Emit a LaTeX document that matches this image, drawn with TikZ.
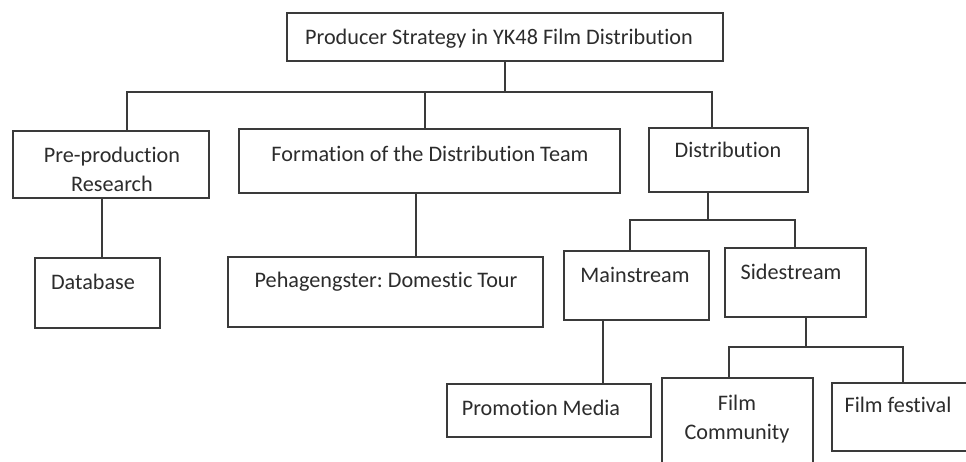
\documentclass[tikz,border=0pt]{standalone}
\usepackage{fontspec}
\setmainfont{Carlito}[Ligatures={NoCommon}]
\usetikzlibrary{fit}
\frenchspacing
\definecolor{ink}{HTML}{3A3A3A}
\definecolor{txt}{HTML}{2C2C2C}
\tikzset{
  box/.style={draw=ink, line width=1.5pt, rectangle, inner sep=0pt, fill=white},
  lbl/.style={text=txt, anchor=base, inner sep=0pt, align=center,
              font=\fontsize{22.2}{29}\selectfont},
  link/.style={draw=ink, line width=1.5pt},
}
\begin{document}
\begin{tikzpicture}[x=1pt,y=-1pt]
\useasboundingbox (0,0) rectangle (966,461);

% boxes
\node[box, fit={(287,13) (723,61)}]   (top)   {};
\node[box, fit={(13,131) (209,198)}]  (pre)   {};
\node[box, fit={(239,129) (620,193)}] (form)  {};
\node[box, fit={(649,128) (808,192)}] (dist)  {};
\node[box, fit={(35,258) (160,328)}]  (db)    {};
\node[box, fit={(228,257) (543,327)}] (tour)  {};
\node[box, fit={(564,251) (709,320)}] (main)  {};
\node[box, fit={(725,248) (866,317)}] (side)  {};
\node[box, fit={(447,384) (651,437)}] (promo) {};
\node[box, fit={(662,378) (813,480)}] (comm)  {};
\node[box, fit={(832,383) (985,451)}] (fest)  {};

% labels (two-line labels are placed by the baseline of their last line)
\node[lbl] (top-t)   at (499,44)  {Producer Strategy in YK48 Film Distribution};
\node[lbl] (pre-t)   at (112,191) {Pre-production\\Research};
\node[lbl] (form-t)  at (430,161) {Formation of the Distribution Team};
\node[lbl] (dist-t)  at (728,157) {Distribution};
\node[lbl] (db-t)    at (93,289)  {Database};
\node[lbl] (tour-t)  at (386,287) {Pehagengster: Domestic Tour};
\node[lbl] (main-t)  at (635,282) {Mainstream};
\node[lbl] (side-t)  at (791,279) {Sidestream};
\node[lbl] (promo-t) at (541,415) {Promotion Media};
\node[lbl] (comm-t)  at (737,439) {Film\\Community};
\node[lbl] (fest-t)  at (898,412) {Film festival};

% junction points of the tree
\coordinate (j0) at (505,92);
\coordinate (j0a) at (127,92);
\coordinate (j0b) at (425,92);
\coordinate (j0c) at (712,92);
\coordinate (j1) at (708,220);
\coordinate (j1a) at (630,220);
\coordinate (j1b) at (795,220);
\coordinate (j2) at (806,347);
\coordinate (j2a) at (729,347);
\coordinate (j2b) at (903,347);

% connectors
\draw[link] (j0 |- top.south) -- (j0);
\draw[link] (j0a |- pre.north) -- (j0a) -- (j0c) -- (j0c |- dist.north);
\draw[link] (j0b) -- (j0b |- form.north);
\draw[link] (102,0 |- pre.south) -- (102,0 |- db.north);
\draw[link] (416,0 |- form.south) -- (416,0 |- tour.north);

\draw[link] (j1 |- dist.south) -- (j1);
\draw[link] (j1a |- main.north) -- (j1a) -- (j1b) -- (j1b |- side.north);
\draw[link] (603,0 |- main.south) -- (603,0 |- promo.north);

\draw[link] (j2 |- side.south) -- (j2);
\draw[link] (j2a |- comm.north) -- (j2a) -- (j2b) -- (j2b |- fest.north);
\end{tikzpicture}
\end{document}
